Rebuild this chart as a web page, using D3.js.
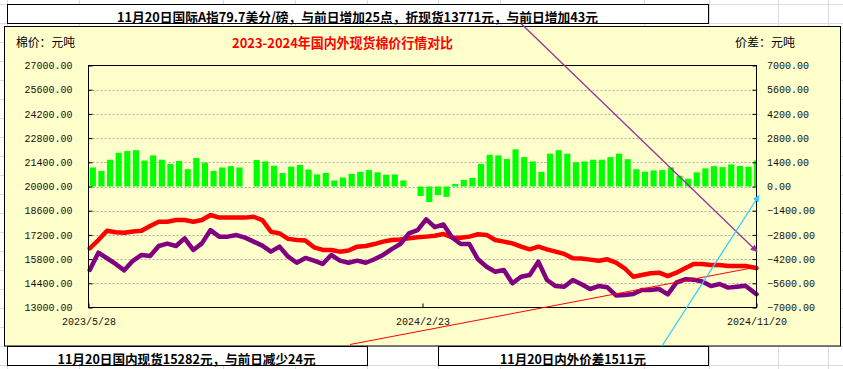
<!DOCTYPE html>
<html><head><meta charset="utf-8">
<script src="https://cdn.jsdelivr.net/npm/d3@7"></script>
<style>html,body{margin:0;padding:0;background:#fff;overflow:hidden}svg{display:block}</style>
</head><body>
<svg id="c" width="843" height="369"></svg>
<script>
// ---------------- data ----------------
const dates = [
"2023-05-29","2023-06-05","2023-06-12","2023-06-19","2023-06-26","2023-07-03","2023-07-10","2023-07-17","2023-07-24","2023-07-31",
"2023-08-07","2023-08-14","2023-08-21","2023-08-28","2023-09-04","2023-09-11","2023-09-18","2023-09-25","2023-10-02","2023-10-09",
"2023-10-16","2023-10-23","2023-10-30","2023-11-06","2023-11-13","2023-11-20","2023-11-27","2023-12-04","2023-12-11","2023-12-18",
"2023-12-25","2024-01-01","2024-01-08","2024-01-15","2024-01-22","2024-01-29","2024-02-05","2024-02-12","2024-02-19","2024-02-26",
"2024-03-04","2024-03-11","2024-03-18","2024-03-25","2024-04-01","2024-04-08","2024-04-15","2024-04-22","2024-04-29","2024-05-06",
"2024-05-13","2024-05-20","2024-05-27","2024-06-03","2024-06-10","2024-06-17","2024-06-24","2024-07-01","2024-07-08","2024-07-15",
"2024-07-22","2024-07-29","2024-08-05","2024-08-12","2024-08-19","2024-08-26","2024-09-02","2024-09-09","2024-09-16","2024-09-23",
"2024-09-30","2024-10-07","2024-10-14","2024-10-21","2024-10-28","2024-11-04","2024-11-11","2024-11-20"];
// domestic spot price (red, left axis)
const domesticPrice = [
16425,16900,17440,17350,17330,17400,17440,17715,17960,17960,
18060,18060,17960,18060,18350,18200,18200,18200,18200,18250,
18060,17385,17290,16970,16905,16870,16480,16330,16330,16230,
16300,16520,16560,16670,16810,16905,16940,17000,17060,17100,
17150,17250,17050,17030,17100,17235,17200,16905,16810,16710,
16520,16365,16520,16365,16230,16100,15850,15830,15770,15710,
15790,15600,15270,14780,14880,14980,15015,14820,15015,15270,
15520,15520,15460,15460,15400,15400,15400,15282];
// international index converted to spot (purple, left axis)
const intlPrice = [
15170,16170,15850,15520,15150,15700,16040,15980,16560,16700,
16560,17000,16330,16710,17480,17100,17100,17190,17040,16810,
16580,16230,16520,15940,15590,15865,15710,15520,16040,15710,
15590,15710,15590,15790,16040,16380,16670,17290,17480,18100,
17650,17800,17050,16670,16670,15790,15360,15070,15170,14400,
14780,14880,15650,14590,14240,14200,14590,14340,14070,14240,
14170,13700,13720,13780,14010,14010,14070,13760,14435,14630,
14610,14500,14240,14360,14150,14205,14260,13771];
// domestic minus international spread (green bars, right axis)
const priceSpread = [
1100,900,1550,1950,2050,2100,1500,1800,1550,1300,
1475,1000,1650,1380,900,1100,1180,1100,null,1530,
1450,1200,780,1150,1250,980,700,780,350,520,
730,850,950,820,680,700,350,null,-550,-900,
-500,-600,150,380,500,1300,1830,1800,1600,2150,
1700,1450,850,1900,2100,1900,1400,1450,1550,1550,
1700,1900,1580,1000,860,930,950,1100,620,450,
820,1050,1180,1120,1280,1190,1140,1511];
const leftTicks = [13000,14400,15800,17200,18600,20000,21400,22800,24200,25600,27000];
const rightTicks = [-7000,-5600,-4200,-2800,-1400,0,1400,2800,4200,5600,7000];
const dateTicks = ["2023-05-28","2024-02-23","2024-11-20"];

const chartTitle = "2023-2024年国内外现货棉价行情对比";
const leftUnit = "棉价：元吨";
const rightUnit = "价差：元吨";
const noteTop = "11月20日国际A指79.7美分/磅，与前日增加25点，折现货13771元，与前日增加43元";
const noteBottomLeft = "11月20日国内现货15282元，与前日减少24元";
const noteBottomRight = "11月20日内外价差1511元";

// ---------------- layout ----------------
const W = 843, H = 369;
const plot = {l: 88.5, r: 756.5, t: 65.5, b: 307.5};
const parse = d3.timeParse("%Y-%m-%d");
const fmtDate = d3.timeFormat("%Y/%-m/%-d");
const tickFont = "'Liberation Mono','DejaVu Sans Mono',monospace";
const cjkFont = "'Noto Sans CJK SC','Noto Sans',sans-serif";

const svg = d3.select("#c");
svg.append("rect").attr("width", W).attr("height", H).attr("fill", "#fff");

// spreadsheet cell grid
const gridG = svg.append("g").attr("stroke", "#dcdcdc").attr("stroke-width", 1);
[7, 79, 223, 295, 367, 438, 500, 644, 709, 778, 828].forEach(v =>
  gridG.append("line").attr("x1", v + 0.5).attr("x2", v + 0.5).attr("y1", 0).attr("y2", H));
d3.range(4, H, 19).forEach(v =>
  gridG.append("line").attr("y1", v + 0.5).attr("y2", v + 0.5).attr("x1", 0).attr("x2", W));

// chart area
svg.append("rect").attr("x", 4.5).attr("y", 26.5).attr("width", 836).attr("height", 319.5)
  .attr("fill", "#FFFFCC").attr("stroke", "#000").attr("stroke-width", 1);

// scales
const x = d3.scaleTime().domain([parse(dateTicks[0]), parse(dateTicks[2])]).range([plot.l, plot.r]);
const yL = d3.scaleLinear().domain([13000, 27000]).range([plot.b, plot.t]);
const yR = d3.scaleLinear().domain([-7000, 7000]).range([plot.b, plot.t]);

// gridlines
svg.append("g").selectAll("line").data(leftTicks.slice(1, -1)).join("line")
  .attr("x1", plot.l).attr("x2", plot.r)
  .attr("y1", d => Math.round(yL(d)) + 0.5).attr("y2", d => Math.round(yL(d)) + 0.5)
  .attr("stroke", "#a9a9a9").attr("stroke-width", 1).attr("stroke-dasharray", "2,2");

// bars (weekly trading blocks)
const endDate = parse(dateTicks[2]);
const barData = dates.map((d, i) => ({d: parse(d), v: priceSpread[i]})).filter(b => b.v != null);
svg.append("g").selectAll("rect").data(barData).join("rect")
  .attr("x", b => x(d3.timeMonday.floor(b.d)))
  .attr("width", b => {
    const s = d3.timeMonday.floor(b.d);
    const e = d3.min([d3.timeDay.offset(s, 5), endDate]);
    return Math.max(1, x(e) - x(s));
  })
  .attr("y", b => yR(Math.max(0, b.v)))
  .attr("height", b => Math.abs(yR(b.v) - yR(0)))
  .attr("fill", "#00FF00");

// lines
const mk = arr => dates.map((d, i) => ({d: parse(d), v: arr[i]}));
const line = d3.line().x(p => x(p.d)).y(p => yL(p.v));
svg.append("path").datum(mk(domesticPrice)).attr("d", line)
  .attr("fill", "none").attr("stroke", "#FF0000").attr("stroke-width", 4.5)
  .attr("stroke-linejoin", "round").attr("stroke-linecap", "round");
svg.append("path").datum(mk(intlPrice)).attr("d", line)
  .attr("fill", "none").attr("stroke", "#800080").attr("stroke-width", 4.5)
  .attr("stroke-linejoin", "round").attr("stroke-linecap", "round");

// plot border
svg.append("rect").attr("x", plot.l).attr("y", plot.t).attr("width", plot.r - plot.l).attr("height", plot.b - plot.t)
  .attr("fill", "none").attr("stroke", "#000").attr("stroke-width", 1);

// axes
const axL = svg.append("g").attr("transform", `translate(${plot.l},0)`)
  .call(d3.axisLeft(yL).tickValues(leftTicks).tickFormat(d3.format(".2f")).tickSizeInner(-4).tickSizeOuter(0).tickPadding(16));
const axR = svg.append("g").attr("transform", `translate(${plot.r},0)`)
  .call(d3.axisRight(yR).tickValues(rightTicks).tickFormat(d3.format(".2f")).tickSizeInner(-4).tickSizeOuter(0).tickPadding(10.5));
const axB = svg.append("g").attr("transform", `translate(0,${plot.b})`)
  .call(d3.axisBottom(x).tickValues(dateTicks.map(parse)).tickFormat(fmtDate).tickSizeInner(-4).tickSizeOuter(0).tickPadding(10));
[axL, axR, axB].forEach(a => {
  a.select(".domain").remove();
  a.selectAll("text").attr("font-family", tickFont).attr("font-size", 10).attr("fill", "#111");
  a.selectAll("line").attr("stroke", "#000");
});

// header texts
svg.append("text").attr("x", 16).attr("y", 47.3).text(leftUnit)
  .attr("font-family", cjkFont).attr("font-size", 12).attr("fill", "#000")
  .attr("textLength", 59).attr("lengthAdjust", "spacingAndGlyphs");
svg.append("text").attr("x", 735).attr("y", 47.3).text(rightUnit)
  .attr("font-family", cjkFont).attr("font-size", 12).attr("fill", "#000")
  .attr("textLength", 60).attr("lengthAdjust", "spacingAndGlyphs");
svg.append("text").attr("x", 232).attr("y", 47.8).text(chartTitle)
  .attr("font-family", cjkFont).attr("font-size", 13.5).attr("font-weight", "bold").attr("fill", "#FF0000")
  .attr("textLength", 221).attr("lengthAdjust", "spacingAndGlyphs");

// note boxes
function noteBox(bx, by, bw, bh, tx, tw, ty, txt) {
  svg.append("rect").attr("x", bx + 0.5).attr("y", by + 0.5).attr("width", bw).attr("height", bh)
    .attr("fill", "#fff").attr("stroke", "#000").attr("stroke-width", 1);
  svg.append("text").attr("x", tx).attr("y", ty).text(txt)
    .attr("font-family", cjkFont).attr("font-size", 13).attr("font-weight", "bold").attr("fill", "#000")
    .attr("textLength", tw).attr("lengthAdjust", "spacingAndGlyphs");
}
noteBox(7, 4, 701, 19, 117, 481, 21.8, noteTop);
noteBox(7, 346, 360, 19, 57.5, 258, 364.2, noteBottomLeft);
noteBox(438, 346, 270, 19, 500, 146, 364.2, noteBottomRight);

// connector annotations
const defs = svg.append("defs");
function arrowMarker(id, color) {
  defs.append("marker").attr("id", id).attr("viewBox", "0 0 10 10").attr("refX", 9).attr("refY", 5)
    .attr("markerWidth", 7).attr("markerHeight", 7).attr("markerUnits", "userSpaceOnUse").attr("orient", "auto")
    .append("path").attr("d", "M0,0L10,5L0,10z").attr("fill", color);
}
arrowMarker("arP", "#993399");
arrowMarker("arC", "#33CCFF");
const lastIdx = dates.length - 1;
svg.append("line").attr("x1", 350).attr("y1", 344.5)
  .attr("x2", x(parse(dates[lastIdx]))).attr("y2", yL(domesticPrice[lastIdx]) - 1)
  .attr("stroke", "#FF0000").attr("stroke-width", 1);
svg.append("line").attr("x1", 521).attr("y1", 23.5).attr("x2", 757).attr("y2", 251.5)
  .attr("stroke", "#993399").attr("stroke-width", 1.3).attr("marker-end", "url(#arP)");
svg.append("line").attr("x1", 662).attr("y1", 346).attr("x2", 759).attr("y2", 195.5)
  .attr("stroke", "#33CCFF").attr("stroke-width", 1.3).attr("marker-end", "url(#arC)");
</script>
</body></html>
